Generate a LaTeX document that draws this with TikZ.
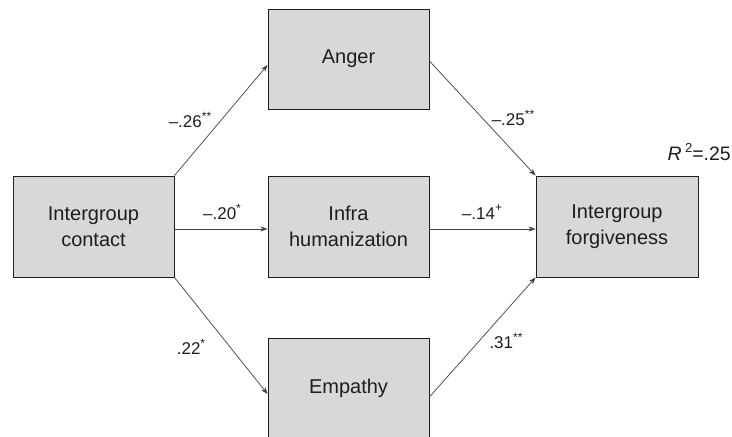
\documentclass[tikz,border=0pt]{standalone}
\usepackage{fontspec}
\setmainfont{Liberation Sans}
\usetikzlibrary{arrows.meta}
\definecolor{boxfill}{HTML}{D8D8D8}
\definecolor{ink}{HTML}{1E1E1E}
\newcommand{\sig}[1]{\raisebox{0.42em}{\fontsize{12}{12}\selectfont #1}}
\tikzset{
  varbox/.style={draw=ink, line width=0.9pt, fill=boxfill, minimum width=161pt, minimum height=101pt,
    inner sep=0pt, align=center, font=\fontsize{20}{26}\selectfont, text=ink},
  path/.style={draw=ink!85, line width=0.7pt, -{Stealth[length=7pt,width=5pt]}},
  coef/.style={font=\fontsize{17}{20}\selectfont, text=ink, inner sep=0pt}
}
\begin{document}
\begin{tikzpicture}[x=1pt,y=-1pt]
\useasboundingbox (0,0) rectangle (732,437);
\clip (0,0) rectangle (732,437);
\fill[white] (0,0) rectangle (732,437);
\node[varbox] (contact) at (93.5,226.5) {Intergroup\\contact};
\node[varbox, minimum height=100pt] (anger) at (348.5,59) {Anger};
\node[varbox] (infra) at (348.5,226.5) {Infra\\humanization};
\node[varbox, minimum height=101pt] (empathy) at (348.5,388.5) {Empathy};
\node[varbox, minimum width=162pt] (forgive) at (617,226.5) {Intergroup\\forgiveness};
\draw[path] (contact.north east) -- ([yshift=-6pt]anger.west);
\draw[path] ([yshift=-2.5pt]contact.east) -- ([yshift=-2.5pt]infra.west);
\draw[path] (contact.south east) -- ([yshift=-5.5pt]empathy.west);
\draw[path] ([yshift=-2pt]anger.east) -- (forgive.north west);
\draw[path] ([yshift=-2.5pt]infra.east) -- ([yshift=-2.5pt]forgive.west);
\draw[path] ([yshift=-8.5pt]empathy.east) -- (forgive.south west);
\node[coef] (c1) at (190,120) {–.26\sig{**}};
\node[coef] (c2) at (222,212) {–.20\sig{*}};
\node[coef] (c3) at (191,347) {.22\sig{*}};
\node[coef] (c4) at (513,118) {–.25\sig{**}};
\node[coef] (c5) at (482,212) {–.14\sig{+}};
\node[coef] (c6) at (506,341) {.31\sig{**}};
\node[coef, font=\fontsize{19.5}{22}\selectfont, anchor=east] (r2) at (731,152) {\textit{R}\,\raisebox{0.38em}{\fontsize{13}{13}\selectfont 2}=.25};
\end{tikzpicture}
\end{document}
